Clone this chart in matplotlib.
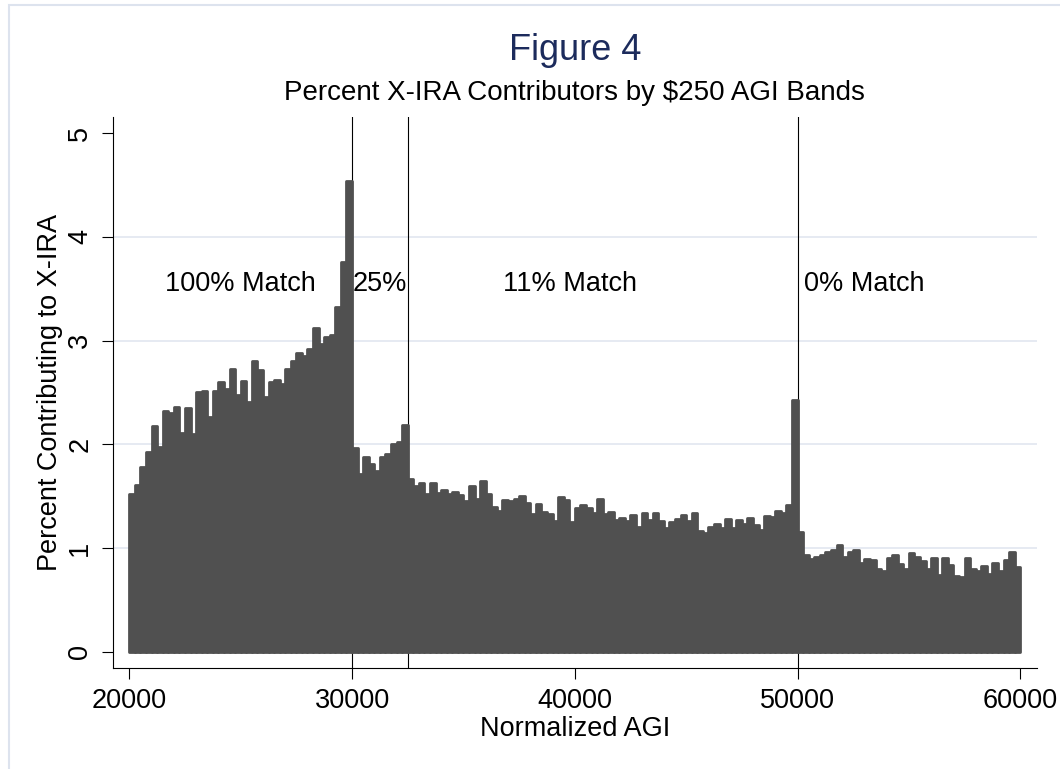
import numpy as np
import matplotlib
matplotlib.use("Agg")
import matplotlib.pyplot as plt
from matplotlib.patches import Rectangle

# ---- data: percent contributing to X-IRA, one value per $250 AGI band ----
PCT_100 = [1.52, 1.61, 1.78, 1.93, 2.18, 1.97, 2.32, 2.30, 2.36, 2.11,
           2.35, 2.10, 2.50, 2.51, 2.26, 2.51, 2.60, 2.53, 2.73, 2.48,
           2.61, 2.41, 2.80, 2.72, 2.46, 2.60, 2.62, 2.58, 2.73, 2.80,
           2.88, 2.85, 2.92, 3.12, 2.97, 3.03, 3.05, 3.32, 3.76, 4.54]   # 20000-29750
PCT_25 = [1.96, 1.71, 1.88, 1.81, 1.74, 1.88, 1.91, 2.00, 2.02, 2.19]     # 30000-32250
PCT_11 = [1.67, 1.60, 1.63, 1.52, 1.63, 1.53, 1.56, 1.52, 1.54, 1.51,
          1.45, 1.60, 1.47, 1.65, 1.52, 1.40, 1.36, 1.46, 1.45, 1.47,
          1.50, 1.43, 1.33, 1.42, 1.35, 1.33, 1.26, 1.49, 1.46, 1.25,
          1.39, 1.41, 1.39, 1.34, 1.47, 1.33, 1.35, 1.27, 1.29, 1.26,
          1.32, 1.20, 1.34, 1.27, 1.34, 1.26, 1.19, 1.25, 1.28, 1.32,
          1.26, 1.34, 1.16, 1.14, 1.20, 1.23, 1.19, 1.28, 1.19, 1.27,
          1.23, 1.29, 1.22, 1.17, 1.31, 1.30, 1.36, 1.34, 1.41, 2.43]     # 32500-49750
PCT_0 = [1.15, 0.93, 0.89, 0.91, 0.93, 0.96, 0.98, 1.03, 0.91, 0.96,
         0.98, 0.86, 0.89, 0.88, 0.80, 0.78, 0.90, 0.93, 0.85, 0.80,
         0.95, 0.91, 0.87, 0.80, 0.90, 0.74, 0.90, 0.84, 0.73, 0.72,
         0.90, 0.80, 0.78, 0.83, 0.75, 0.86, 0.78, 0.88, 0.96, 0.82]      # 50000-59750

BAND_LO, BAND_HI, BAND_W = 20000, 60000, 250
MATCH_LINES = [30000, 32500, 50000]
MATCH_LABELS = ["100% Match", "25%", "11% Match", "0% Match"]
LABEL_X = [25000, 31250, 39800, 53000]
LABEL_Y = 3.55
X_TICKS = [20000, 30000, 40000, 50000, 60000]
Y_TICKS = [0, 1, 2, 3, 4, 5]

# ---- style ----------------------------------------------------------------
BAR = "#505050"
GRID = "#e2e6f0"
FRAME = "#dde3ee"
TITLE = "#1c2b5c"
W, H = 1060, 769

plt.rcParams["font.family"] = ["Liberation Sans", "DejaVu Sans"]

pct = np.array(PCT_100 + PCT_25 + PCT_11 + PCT_0)
bands = np.arange(BAND_LO, BAND_HI, BAND_W)

fig = plt.figure(figsize=(W / 100, H / 100), dpi=100)
ax = fig.add_axes([112.7 / W, 1 - 668.3 / H, 924 / W, 551.7 / H])
ax.set_xlim(19255, 60736)
ax.set_ylim(-0.16, 5.16)

for y in Y_TICKS[1:-1]:
    ax.axhline(y, color=GRID, lw=1.2, zorder=1)
for x in MATCH_LINES:
    ax.axvline(x, color="black", lw=0.8, zorder=2)

ax.bar(bands, pct, width=BAND_W, align="edge", color=BAR, edgecolor=BAR,
       linewidth=2.0, joinstyle="round", zorder=3)

for lab, x in zip(MATCH_LABELS, LABEL_X):
    ax.text(x, LABEL_Y, lab, ha="center", va="center", fontsize=19.5,
            zorder=4)

for s in ("top", "right"):
    ax.spines[s].set_visible(False)
for s in ("left", "bottom"):
    ax.spines[s].set_linewidth(0.8)

ax.set_xticks(X_TICKS)
ax.set_yticks(Y_TICKS)
ax.tick_params(length=8, width=0.8, labelsize=19.5, pad=6)
for lbl in ax.get_yticklabels():
    lbl.set_rotation(90)
    lbl.set_va("center")

ax.set_xlabel("Normalized AGI", fontsize=19.5, labelpad=1.5)
ax.set_ylabel("Percent Contributing to X-IRA", fontsize=19.5, labelpad=3)

cx = (112.7 + 1036.7) / 2 / W
fig.text(cx, 1 - 50 / H, "Figure 4", ha="center", va="center",
         fontsize=26, color=TITLE)
fig.text(cx, 1 - 93 / H, "Percent X-IRA Contributors by $250 AGI Bands",
         ha="center", va="center", fontsize=20)

fig.add_artist(Rectangle((9 / W, -0.1), 2, 1.1 - 5 / H,
                         transform=fig.transFigure, fill=False,
                         edgecolor=FRAME, lw=1.5))

fig.savefig("out.png", dpi=100)
